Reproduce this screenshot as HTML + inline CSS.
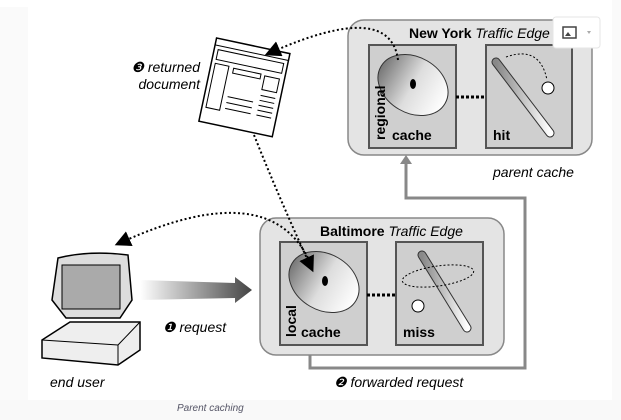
<!DOCTYPE html>
<html><head><meta charset="utf-8"><style>
html,body{margin:0;padding:0;background:#fff;width:621px;height:420px;overflow:hidden}
svg{display:block}
text{font-family:"Liberation Sans",sans-serif}
</style></head><body>
<svg width="621" height="420" viewBox="0 0 621 420" xmlns="http://www.w3.org/2000/svg">
<defs>
<linearGradient id="arr" x1="0" x2="1"><stop offset="0" stop-color="#fff"/><stop offset="1" stop-color="#444"/></linearGradient>
<linearGradient id="disk" x1="0" x2="1"><stop offset="0" stop-color="#777"/><stop offset="0.5" stop-color="#ddd"/><stop offset="1" stop-color="#fff"/></linearGradient>
<linearGradient id="bat" x1="0" x2="1"><stop offset="0" stop-color="#888"/><stop offset="1" stop-color="#fff"/></linearGradient>
<marker id="ah" markerWidth="8" markerHeight="8" refX="4" refY="4" orient="auto"><path d="M0,0 L8,4 L0,8z" fill="#000"/></marker>
</defs>
<rect x="0" y="7" width="28" height="393" fill="#fafafa"/>
<rect x="612" y="0" width="9" height="420" fill="#fafafa"/>
<rect x="0" y="400" width="621" height="20" fill="#f9f9f9"/>

<!-- NY box -->
<rect x="348" y="20" width="244" height="135" rx="16" fill="#e4e4e4" stroke="#888" stroke-width="1.5"/>
<text x="409" y="38" font-size="14" font-weight="bold">New York <tspan font-weight="normal" font-style="italic">Traffic Edge</tspan></text>
<rect x="369" y="45" width="87" height="103" fill="#cfcfcf" stroke="#555" stroke-width="2"/>
<rect x="486" y="45" width="86" height="103" fill="#cfcfcf" stroke="#555" stroke-width="2"/>
<line x1="456" y1="97" x2="486" y2="97" stroke="#000" stroke-width="3" stroke-dasharray="3,2"/>
<ellipse cx="413" cy="85" rx="37" ry="28" transform="rotate(30 413 85)" fill="url(#disk)" stroke="#333"/>
<ellipse cx="413" cy="84" rx="3" ry="5" fill="#000"/>
<text x="392" y="140" font-size="14" font-weight="bold">cache</text>
<text transform="translate(385,140) rotate(-90)" font-size="14" font-weight="bold">regional</text>
<line x1="496" y1="62" x2="550" y2="133" stroke="#333" stroke-width="9" stroke-linecap="round"/>
<line x1="496" y1="62" x2="550" y2="133" stroke="url(#bat)" stroke-width="7" stroke-linecap="round"/>
<path d="M506,57 Q540,45 547,80" fill="none" stroke="#000" stroke-dasharray="2,2"/>
<circle cx="548" cy="88" r="6" fill="#fff" stroke="#000"/>
<text x="493" y="140" font-size="14" font-weight="bold">hit</text>
<text x="493" y="177" font-size="14" font-style="italic">parent cache</text>

<!-- popup icon -->
<rect x="553" y="17" width="47" height="31" rx="3" fill="#fff" stroke="#e6e6e6"/>
<rect x="563" y="27" width="13" height="11" fill="#fff" stroke="#444" stroke-width="1.5"/>
<path d="M565,36 l3,-4 l3,4z" fill="#444"/>
<path d="M587,31 l4,0 l-2,3z" fill="#aaa"/>

<!-- forwarded line -->
<polyline points="310,345 310,368 525,368 525,198 406,198 406,162" fill="none" stroke="#888" stroke-width="3"/>
<path d="M400,164 L406,155 L412,164z" fill="#888"/>

<!-- Baltimore box -->
<rect x="260" y="218" width="244" height="137" rx="16" fill="#e4e4e4" stroke="#888" stroke-width="1.5"/>
<text x="320" y="236" font-size="14" font-weight="bold">Baltimore <tspan font-weight="normal" font-style="italic">Traffic Edge</tspan></text>
<rect x="280" y="242" width="87" height="103" fill="#cfcfcf" stroke="#555" stroke-width="2"/>
<rect x="396" y="242" width="87" height="103" fill="#cfcfcf" stroke="#555" stroke-width="2"/>
<line x1="367" y1="295" x2="396" y2="295" stroke="#000" stroke-width="3" stroke-dasharray="3,2"/>
<ellipse cx="324" cy="282" rx="37" ry="28" transform="rotate(30 324 282)" fill="url(#disk)" stroke="#333"/>
<ellipse cx="325" cy="281" rx="3" ry="5" fill="#000"/>
<text x="301" y="337" font-size="14" font-weight="bold">cache</text>
<text transform="translate(296,337) rotate(-90)" font-size="14" font-weight="bold">local</text>
<line x1="422" y1="255" x2="467" y2="328" stroke="#333" stroke-width="9" stroke-linecap="round"/>
<line x1="422" y1="255" x2="467" y2="328" stroke="url(#bat)" stroke-width="7" stroke-linecap="round"/>
<ellipse cx="438" cy="276" rx="36" ry="10" transform="rotate(-8 438 276)" fill="none" stroke="#000" stroke-dasharray="2,2"/>
<circle cx="418" cy="306" r="6" fill="#fff" stroke="#000"/>
<text x="403" y="337" font-size="14" font-weight="bold">miss</text>
<text x="334" y="387" font-size="14" font-style="italic">❷ forwarded request</text>

<!-- computer -->
<path d="M52,300 L58,258 Q90,250 128,255 L132,300 L120,318 L66,318z" fill="#ddd" stroke="#000" stroke-width="1.5"/>
<rect x="62" y="265" width="58" height="44" fill="#aaa" stroke="#000"/>
<path d="M42,340 L70,322 L140,322 L140,350 L118,365 L42,358z" fill="#eee" stroke="#000" stroke-width="1.5"/>
<line x1="42" y1="340" x2="118" y2="345" stroke="#000"/><line x1="118" y1="345" x2="140" y2="322" stroke="#000"/>
<line x1="118" y1="345" x2="118" y2="365" stroke="#000"/>
<text x="50" y="387" font-size="14" font-style="italic">end user</text>

<!-- gradient arrow -->
<path d="M140,280 L235,283 L235,277 L252,290 L235,303 L235,298 L140,300z" fill="url(#arr)"/>
<text x="163" y="332" font-size="14" font-style="italic">❶ request</text>

<!-- document -->
<g transform="rotate(12 245 87)">
<rect x="207" y="45" width="75" height="85" fill="#fff" stroke="#000" stroke-width="1.5"/>
<line x1="207" y1="52" x2="282" y2="52" stroke="#000"/>
<rect x="211" y="56" width="67" height="10" fill="none" stroke="#000"/>
<rect x="211" y="70" width="14" height="45" fill="none" stroke="#000"/>
<rect x="230" y="71" width="28" height="5" fill="none" stroke="#000"/>
<rect x="262" y="72" width="15" height="14" fill="none" stroke="#000"/>
<path d="M230,100h26M230,106h26M230,112h26M262,92h15M262,97h15M262,102h15M262,107h15M262,112h15" stroke="#000"/>
</g>
<text x="200" y="72" font-size="14" font-style="italic" text-anchor="end">❸ returned</text>
<text x="200" y="89" font-size="14" font-style="italic" text-anchor="end">document</text>

<!-- dotted curves -->
<path d="M398,60 Q390,0 272,52" fill="none" stroke="#000" stroke-width="2" stroke-dasharray="2,2.5" marker-end="url(#ah)"/>
<path d="M254,135 Q280,200 310,265" fill="none" stroke="#000" stroke-width="2" stroke-dasharray="2,2.5" marker-end="url(#ah)"/>
<path d="M310,262 Q270,175 122,242" fill="none" stroke="#000" stroke-width="2" stroke-dasharray="2,2.5" marker-end="url(#ah)"/>

<text x="177" y="411" font-size="10" font-style="italic" fill="#556" font-family="'DejaVu Sans',sans-serif">Parent caching</text>
</svg>
</body></html>
